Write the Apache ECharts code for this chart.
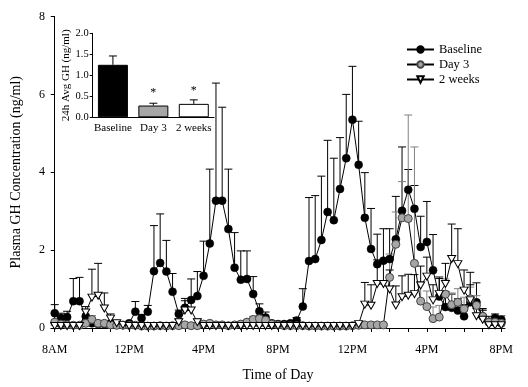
<!DOCTYPE html>
<html>
<head>
<meta charset="utf-8">
<script src="https://cdn.jsdelivr.net/npm/echarts@6/dist/echarts.min.js"></script>
<style>html,body{margin:0;padding:0;background:#fff}#c{width:528px;height:387px}</style>
</head>
<body>
<div id="c"></div>
<script>
// ---- data ----
const tickLabels = ["8AM","12PM","4PM","8PM","12PM","4PM","8PM"];
const labelHours = [0,4,8,12,16,20,24];
const tickHours = [0,1,2,3,4,5,6,7,8,9,10,11,12,13,14,15,16,17,18,19,20,21,22,23,24];
const seriesNames = ["Baseline","Day 3","2 weeks"];
// samples every 20 min from 8AM (hours since start)
const sampleHours = Array.from({length:73},(_,i)=>i/3);

const baseline = [0.38,0.26,0.28,0.69,0.69,0.30,0.12,0.10,0.10,0.12,
  0.10,0.08,0.12,0.42,0.25,0.42,1.46,1.67,1.45,0.93,
  0.36,0.52,0.72,0.82,1.34,2.17,3.27,3.27,2.54,1.55,
  1.24,1.26,0.87,0.43,0.27,0.12,0.10,0.10,0.12,0.19,
  0.55,1.72,1.77,2.26,2.98,2.77,3.57,4.36,5.35,4.19,
  2.83,2.03,1.64,1.73,1.77,2.28,3.01,3.55,3.06,2.08,
  2.21,1.48,0.81,0.54,0.52,0.45,0.30,0.66,0.66,0.30,
  0.15,0.26,0.21];
const baselineSem = [0.22,0.12,0.15,0.58,0.61,0.17,0.05,0.05,0.05,0.05,
  0.05,0.05,0.05,0.26,0.10,0.16,1.17,1.26,0.80,0.47,
  0.10,0.24,0.54,0.63,0.89,1.91,3.02,2.40,1.54,0.90,
  0.74,0.72,0.45,0.19,0.14,0.05,0.05,0.05,0.05,0.08,
  0.46,1.63,1.63,1.64,1.84,1.59,1.32,1.64,1.37,1.12,
  1.16,1.04,0.77,0.82,0.78,1.10,1.64,0.52,0.60,0.79,
  1.04,0.92,0.50,0.40,0.35,0.30,0.30,0.45,0.50,0.20,
  0.15,0.10,0.10];
const day3 = [0.15,0.10,0.08,0.07,0.07,0.12,0.22,0.12,0.12,0.08,
  0.07,0.07,0.07,0.07,0.05,0.05,0.05,0.06,0.05,0.06,
  0.06,0.08,0.06,0.06,0.10,0.12,0.08,0.08,0.06,0.08,
  0.10,0.15,0.22,0.24,0.20,0.10,0.08,0.06,0.06,0.06,
  0.06,0.05,0.05,0.05,0.05,0.05,0.05,0.05,0.06,0.07,
  0.08,0.08,0.08,0.08,1.30,2.15,2.83,2.81,1.66,0.69,
  0.55,0.24,0.28,0.87,0.60,0.66,0.49,0.75,0.58,0.30,
  0.15,0.15,0.12];
const day3Sem = [0.05,0.05,0.04,0.04,0.04,0.06,0.10,0.06,0.06,0.04,
  0.04,0.04,0.04,0.04,0.04,0.04,0.04,0.04,0.04,0.04,
  0.04,0.04,0.04,0.04,0.05,0.05,0.04,0.04,0.04,0.04,
  0.05,0.06,0.08,0.08,0.06,0.04,0.04,0.04,0.04,0.04,
  0.04,0.04,0.04,0.04,0.04,0.04,0.04,0.04,0.04,0.04,
  0.04,0.04,0.04,0.04,0.60,0.83,0.93,2.66,2.99,0.50,
  0.40,0.30,0.30,0.39,0.30,0.35,0.30,0.30,0.25,0.15,
  0.10,0.10,0.10];
const twoWeeks = [0.05,0.05,0.05,0.05,0.05,0.40,0.78,0.83,0.50,0.24,
  0.12,0.08,0.05,0.05,0.05,0.05,0.05,0.05,0.05,0.05,
  0.15,0.45,0.45,0.15,0.05,0.05,0.05,0.05,0.05,0.05,
  0.05,0.05,0.05,0.05,0.05,0.05,0.05,0.05,0.05,0.05,
  0.05,0.05,0.05,0.05,0.05,0.05,0.05,0.05,0.05,0.10,
  0.60,0.57,1.13,1.13,0.99,0.58,0.79,0.83,0.87,1.09,
  1.32,0.71,0.87,1.13,1.77,1.64,0.96,0.71,0.30,0.21,
  0.07,0.07,0.07];
const twoWeeksSem = [0.03,0.03,0.03,0.03,0.03,0.15,0.73,0.83,0.40,0.12,
  0.05,0.03,0.03,0.03,0.03,0.03,0.03,0.03,0.03,0.03,
  0.08,0.25,0.25,0.08,0.03,0.03,0.03,0.03,0.03,0.03,
  0.03,0.03,0.03,0.03,0.03,0.03,0.03,0.03,0.03,0.03,
  0.03,0.03,0.03,0.03,0.03,0.03,0.03,0.03,0.03,0.05,
  0.57,0.54,0.62,0.60,0.50,0.50,0.55,0.55,0.50,0.50,
  0.50,0.40,0.40,0.53,0.90,0.91,0.53,0.72,0.20,0.25,
  0.05,0.05,0.05];

// inset: 24h average
const insetCats = ["Baseline","Day 3","2 weeks"];
const insetMeans = [1.25, 0.28, 0.32];
const insetSem = [0.21, 0.055, 0.095];
const insetSig = ["", "*", "*"];
const insetColors = ["#000000", "#a6a6a6", "#ffffff"];

// ---- chart ----
const FONT = "Liberation Serif";
const pairs = (vals) => vals.map((v,i)=>[sampleHours[i], v]);
const triples = (vals, sem) => vals.map((v,i)=>[sampleHours[i], v, sem[i]]);

function errRender(color, hw){
  return function(params, api){
    const x = api.value(0), y = api.value(1), e = api.value(2);
    const p0 = api.coord([x, y]), p1 = api.coord([x, y + e]);
    return {type:'group', children:[
      {type:'line', shape:{x1:p0[0], y1:p0[1], x2:p1[0], y2:p1[1]}, style:{stroke:color, lineWidth:1}},
      {type:'line', shape:{x1:p1[0]-hw, y1:p1[1], x2:p1[0]+hw, y2:p1[1]}, style:{stroke:color, lineWidth:1}}
    ]};
  };
}

const axisBlack = {lineStyle:{color:'#000', width:1}};
const chart = echarts.init(document.getElementById('c'), null, {renderer:'canvas'});
chart.setOption({
  animation:false,
  backgroundColor:'#fff',
  textStyle:{fontFamily:FONT, color:'#000'},
  legend:{
    data:seriesNames, orient:'vertical', left:401, top:38,
    itemWidth:27, itemHeight:8, itemGap:2, selectedMode:false,
    textStyle:{fontFamily:FONT, fontSize:12.5, color:'#000'}
  },
  grid:[
    {left:51, right:23, top:16.5, bottom:56},
    {left:92.7, width:121.3, top:33.3, height:84}
  ],
  xAxis:[
    {type:'value', gridIndex:0, min:-0.2, max:24.2,
      axisLine:{show:true, onZero:false, ...axisBlack},
      axisTick:{show:true, customValues:tickHours, length:4, ...axisBlack},
      axisLabel:{customValues:labelHours, formatter:(v)=>tickLabels[Math.round(v/4)], fontFamily:FONT, fontSize:12, color:'#000', margin:16},
      splitLine:{show:false},
      name:'Time of Day', nameLocation:'middle', nameGap:40,
      nameTextStyle:{fontFamily:FONT, fontSize:14, color:'#000'}},
    {type:'category', gridIndex:1, data:insetCats,
      axisLine:{show:true, ...axisBlack}, axisTick:{show:false},
      axisLabel:{fontFamily:FONT, fontSize:11, color:'#000', margin:5, interval:0}}
  ],
  yAxis:[
    {type:'value', gridIndex:0, min:0, max:8, interval:2,
      axisLine:{show:true, ...axisBlack},
      axisTick:{show:true, length:4, ...axisBlack},
      axisLabel:{fontFamily:FONT, fontSize:12, color:'#000', margin:6},
      splitLine:{show:false},
      name:'Plasma GH Concentration (ng/ml)', nameLocation:'middle', nameGap:28, nameRotate:90,
      nameTextStyle:{fontFamily:FONT, fontSize:14, color:'#000'}},
    {type:'value', gridIndex:1, min:0, max:2, interval:0.5,
      axisLine:{show:true, ...axisBlack},
      axisTick:{show:true, length:3, ...axisBlack},
      axisLabel:{fontFamily:FONT, fontSize:10.5, color:'#000', margin:4, formatter:(v)=>v.toFixed(1)},
      splitLine:{show:false},
      name:'24h Avg GH (ng/ml)', nameLocation:'middle', nameGap:17, nameRotate:90,
      nameTextStyle:{fontFamily:FONT, fontSize:11, color:'#000'}}
  ],
  series:[
    {type:'custom', name:'errB', xAxisIndex:0, yAxisIndex:0, z:1, silent:true,
      renderItem:errRender('#000', 4), data:triples(baseline, baselineSem), encode:{x:0, y:1}},
    {type:'custom', name:'errD', xAxisIndex:0, yAxisIndex:0, z:1, silent:true,
      renderItem:errRender('#808080', 4), data:triples(day3, day3Sem), encode:{x:0, y:1}},
    {type:'custom', name:'errW', xAxisIndex:0, yAxisIndex:0, z:1, silent:true,
      renderItem:errRender('#000', 4), data:triples(twoWeeks, twoWeeksSem), encode:{x:0, y:1}},
    {type:'line', name:seriesNames[0], xAxisIndex:0, yAxisIndex:0, z:3,
      data:pairs(baseline), symbol:'circle', symbolSize:8, showAllSymbol:true,
      itemStyle:{color:'#000', borderColor:'#000', borderWidth:0.5},
      lineStyle:{color:'#000', width:1}},
    {type:'line', name:seriesNames[1], xAxisIndex:0, yAxisIndex:0, z:4,
      data:pairs(day3), symbol:'circle', symbolSize:8, showAllSymbol:true,
      itemStyle:{color:'#a6a6a6', borderColor:'#444', borderWidth:1},
      lineStyle:{color:'#000', width:1}},
    {type:'line', name:seriesNames[2], xAxisIndex:0, yAxisIndex:0, z:5,
      data:pairs(twoWeeks), symbol:'triangle', symbolRotate:180, symbolSize:[8,7], showAllSymbol:true,
      itemStyle:{color:'#fff', borderColor:'#000', borderWidth:1},
      lineStyle:{color:'#000', width:1}},
    {type:'bar', name:'inset', xAxisIndex:1, yAxisIndex:1, barWidth:30, z:2,
      data:insetMeans.map((v,i)=>({value:v, itemStyle:{color:insetColors[i], borderColor:'#000', borderWidth:1}})),
      label:{show:true, position:'top', distance:7, formatter:(p)=>insetSig[p.dataIndex], fontFamily:FONT, fontSize:12, color:'#000'}},
    {type:'custom', name:'insetErr', xAxisIndex:1, yAxisIndex:1, z:3, silent:true,
      renderItem:errRender('#000', 4), data:insetMeans.map((v,i)=>[i, v, insetSem[i]]), encode:{x:0, y:1}}
  ]
});
</script>
</body>
</html>
